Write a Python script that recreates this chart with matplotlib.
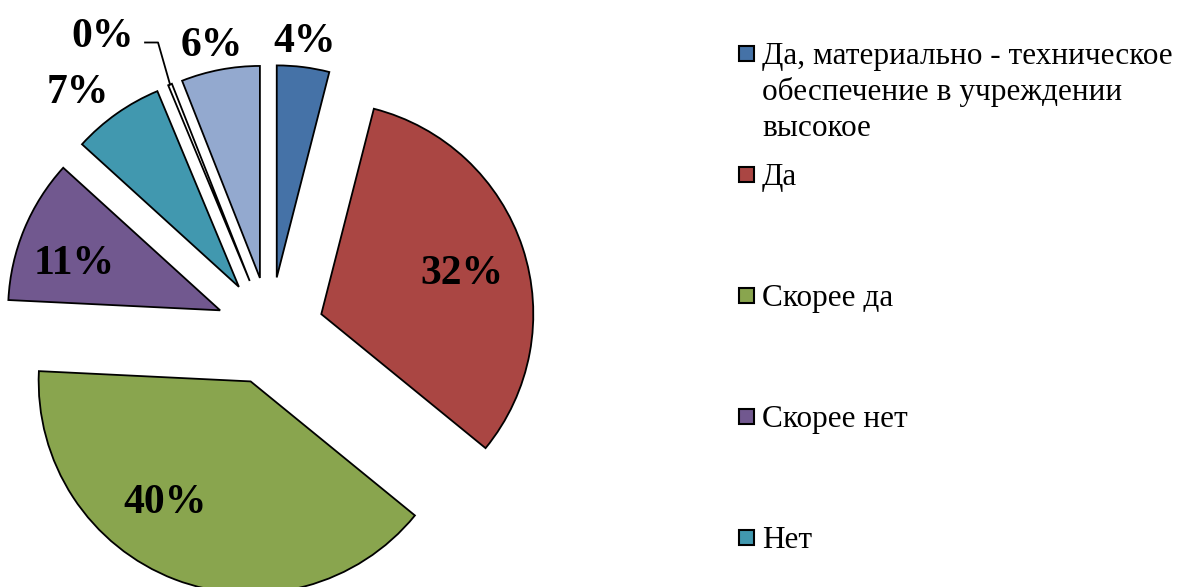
import numpy as np
import matplotlib
matplotlib.use("Agg")
import matplotlib.pyplot as plt
from matplotlib.patches import Rectangle

# data
values = [4, 32, 40, 11, 7, 0.3, 6]
pct_labels = ["4%", "32%", "40%", "11%", "7%", "0%", "6%"]
colors = ["#4572A7", "#AA4643", "#89A54E", "#71588F", "#4198AF", "#DB843D", "#93A9CF"]
legend_labels = ["Да, материально - техническое\nобеспечение в учреждении\nвысокое",
                 "Да", "Скорее да", "Скорее нет", "Нет"]

W, H = 1186, 587
fig = plt.figure(figsize=(W / 100, H / 100), dpi=100)
ax = fig.add_axes([0, 0, 1, 1])

R = 212
center = (270, H - 331)
wedges, _ = ax.pie(values, colors=colors, startangle=90, counterclock=False,
                   radius=R, center=center, explode=[54] * len(values),
                   wedgeprops=dict(edgecolor="black", linewidth=1.3))
# the near-zero slice shows only as its outline
wedges[5].set_facecolor("white")
ax.set_xlim(0, W)
ax.set_ylim(0, H)
ax.set_aspect("equal")
ax.axis("off")

# label placement (fraction of radius from each wedge's own centre, angle tweak in deg)
lab_dist = [1.12, 0.69, 0.70, 0.72, 1.19, None, 1.12]
lab_rot = [0.5, -2.5, -14, 5, 4.5, 0, 1]
for w, lab, d, rot in zip(wedges, pct_labels, lab_dist, lab_rot):
    if d is None:
        continue
    ang = np.deg2rad((w.theta1 + w.theta2) / 2 + rot)
    cx, cy = w.center
    ax.text(cx + d * R * np.cos(ang), cy + d * R * np.sin(ang), lab,
            ha="center", va="center", fontsize=30, fontweight="bold",
            family="Liberation Serif")

# zero slice: label with leader line to the wedge tip
w0 = wedges[5]
a0 = np.deg2rad((w0.theta1 + w0.theta2) / 2)
tip = (w0.center[0] + R * np.cos(a0), w0.center[1] + R * np.sin(a0))
ex, ey = tip[0] - 12, tip[1] + 42
ax.plot([ex - 13, ex, tip[0]], [ey, ey, tip[1]], color="black", lw=1.3)
ax.text(ex - 24, ey + 5, pct_labels[5], ha="right", va="center", fontsize=30,
        fontweight="bold", family="Liberation Serif")

# legend
leg_y = [53, 174, 295, 416, 537]
line_h = 36
for lab, col, y in zip(legend_labels, colors, leg_y):
    ax.add_patch(Rectangle((739, H - y - 7.5), 15, 15, facecolor=col,
                           edgecolor="black", lw=1.5))
    for i, line in enumerate(lab.split("\n")):
        ax.text(762, H - (y + 11 + i * line_h), line, ha="left", va="baseline",
                fontsize=22.5, family="Liberation Serif")

fig.savefig("out.png", dpi=100)
